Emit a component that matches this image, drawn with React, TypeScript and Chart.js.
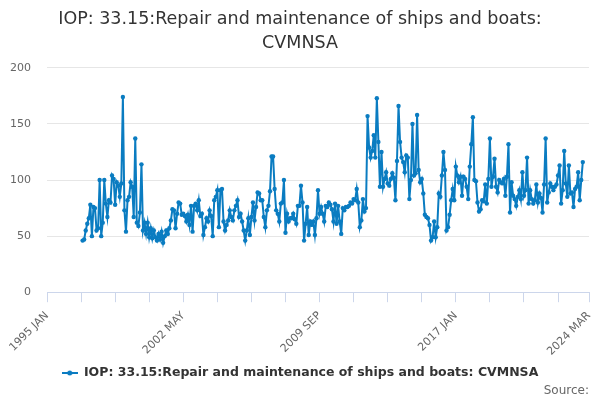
import React, { useEffect, useRef } from 'react';
import Chart from 'chart.js/auto';

const titleLines = ['IOP: 33.15:Repair and maintenance of ships and boats:', 'CVMNSA'];
const seriesName = 'IOP: 33.15:Repair and maintenance of ships and boats: CVMNSA';
const sourceText = 'Source:';

// x axis runs in months counted from 1995 JAN
const monthNames = ['JAN', 'FEB', 'MAR', 'APR', 'MAY', 'JUN', 'JUL', 'AUG', 'SEP', 'OCT', 'NOV', 'DEC'];
const axisStartYear = 1995;
const axisEndMonth = 350; // 2024 MAR
const tickStep = 22;
const labelStep = 88;
const seriesStartMonth = 23; // 1996 DEC

const yTicks = [0, 50, 100, 150, 200];

// monthly values, 1996 DEC .. 2023 NOV
const values = [
  46, 47, 55, 61, 66, 78, 50, 76, 75, 55, 57, 100,
  50, 62, 100, 79, 67, 82, 80, 104, 101, 78, 98, 95,
  85, 97, 174, 73, 54, 82, 85, 98, 94, 67, 137, 62,
  59, 71, 114, 55, 62, 52, 62, 49, 57, 48, 55, 49,
  46, 52, 47, 54, 44, 50, 55, 52, 57, 64, 74, 73,
  57, 70, 80, 79, 69, 70, 68, 63, 69, 60, 77, 54,
  77, 79, 73, 82, 68, 70, 51, 58, 66, 63, 73, 68,
  50, 82, 85, 91, 58, 91, 92, 63, 55, 60, 64, 73,
  67, 64, 73, 77, 82, 67, 70, 63, 55, 46, 55, 66,
  51, 67, 80, 64, 76, 89, 88, 82, 82, 67, 58, 73,
  77, 90, 121, 121, 92, 73, 70, 63, 79, 80, 100, 53,
  70, 63, 66, 66, 70, 65, 61, 77, 77, 95, 80, 46,
  61, 76, 51, 63, 60, 63, 51, 66, 91, 70, 76, 70,
  63, 77, 76, 80, 78, 74, 63, 79, 61, 77, 63, 52,
  75, 73, 76, 76, 77, 80, 79, 83, 82, 92, 80, 58,
  64, 83, 72, 75, 157, 129, 120, 126, 140, 120, 173, 134,
  94, 125, 94, 101, 107, 97, 95, 101, 106, 102, 82, 117,
  166, 134, 120, 116, 107, 122, 120, 83, 100, 150, 104, 106,
  158, 109, 98, 101, 88, 69, 67, 66, 60, 46, 49, 63,
  49, 58, 88, 85, 104, 125, 109, 55, 58, 69, 82, 92,
  82, 112, 104, 98, 103, 86, 103, 101, 94, 83, 112, 132,
  156, 100, 99, 80, 72, 74, 82, 81, 96, 79, 101, 137,
  94, 103, 119, 94, 89, 100, 98, 97, 101, 86, 103, 132,
  71, 98, 86, 83, 77, 85, 91, 83, 107, 86, 91, 120,
  79, 91, 83, 79, 82, 96, 80, 88, 84, 71, 96, 137,
  80, 89, 97, 94, 91, 94, 96, 104, 113, 79, 91, 126,
  97, 85, 113, 88, 89, 76, 92, 94, 107, 82, 100, 116,
];

const lineColor = '#0a7cc1';
const font = 'DejaVu Sans';

function monthLabel(m: number) {
  return axisStartYear + Math.floor(m / 12) + ' ' + monthNames[m % 12];
}

function legendSymbol() {
  const c = document.createElement('canvas');
  c.width = 16;
  c.height = 8;
  const ctx = c.getContext('2d');
  if (ctx) {
    ctx.strokeStyle = lineColor;
    ctx.lineWidth = 2;
    ctx.beginPath();
    ctx.moveTo(0, 4);
    ctx.lineTo(16, 4);
    ctx.stroke();
    ctx.fillStyle = lineColor;
    ctx.beginPath();
    ctx.arc(8, 4, 2.5, 0, Math.PI * 2);
    ctx.fill();
  }
  return c;
}

function App() {
  const chartRef = useRef<HTMLCanvasElement | null>(null);
  const chartInstance = useRef<Chart<'line', { x: number; y: number }[], unknown> | null>(null);

  useEffect(() => {
    document.body.style.margin = '0';
    if (chartInstance.current) {
      chartInstance.current.destroy();
    }
    const ctx = chartRef.current?.getContext('2d');
    if (ctx) {
      const symbol = legendSymbol();
      const tickValues: number[] = [];
      for (let m = 0; m < axisEndMonth; m += tickStep) tickValues.push(m);
      tickValues.push(axisEndMonth);

      chartInstance.current = new Chart(ctx, {
        type: 'line',
        data: {
          datasets: [
            {
              label: seriesName,
              data: values.map((v, i) => ({ x: seriesStartMonth + i, y: v })),
              borderColor: lineColor,
              backgroundColor: lineColor,
              borderWidth: 2,
              pointRadius: 2.2,
              pointBorderWidth: 0,
              pointBackgroundColor: lineColor,
              tension: 0,
            },
          ],
        },
        options: {
          animation: false,
          responsive: true,
          maintainAspectRatio: false,
          layout: { padding: 0 },
          plugins: {
            title: {
              display: true,
              text: titleLines,
              color: '#333333',
              font: { family: font, size: 17.5, weight: 'normal', lineHeight: 1.34 },
              padding: { top: 8, bottom: 13 },
            },
            subtitle: {
              display: true,
              fullSize: false,
              position: 'bottom',
              align: 'end',
              text: sourceText,
              color: '#666666',
              font: { family: font, size: 12, weight: 'normal', lineHeight: 0.9 },
              padding: { top: -4, bottom: 4 },
            },
            legend: {
              position: 'bottom',
              labels: {
                color: '#333333',
                font: { family: font, size: 12.5, weight: 'bold' },
                usePointStyle: true,
                pointStyleWidth: 16,
                padding: 10,
                generateLabels: (chart) =>
                  Chart.defaults.plugins.legend.labels.generateLabels(chart).map((l) => ({
                    ...l,
                    pointStyle: symbol,
                  })),
              },
            },
            tooltip: { enabled: false },
          },
          scales: {
            x: {
              type: 'linear',
              min: 0,
              max: axisEndMonth,
              afterBuildTicks: (axis) => {
                axis.ticks = tickValues.map((v) => ({ value: v }));
              },
              afterFit: (axis) => {
                axis.height = 64.5;
                axis.paddingLeft = 0;
                axis.paddingRight = 0;
              },
              ticks: {
                autoSkip: false,
                maxRotation: 45,
                minRotation: 45,
                color: '#666666',
                font: { family: font, size: 11 },
                padding: 7,
                callback: (v) => {
                  const m = Number(v);
                  return m % labelStep === 0 || m === axisEndMonth ? monthLabel(m) : '';
                },
              },
              grid: {
                drawOnChartArea: false,
                drawTicks: true,
                tickLength: 10,
                color: '#ccd6eb',
              },
              border: { display: true, color: '#ccd6eb' },
            },
            y: {
              min: 0,
              max: 200,
              afterBuildTicks: (axis) => {
                axis.ticks = yTicks.map((v) => ({ value: v }));
              },
              afterFit: (axis) => {
                axis.width = 47;
              },
              ticks: {
                color: '#666666',
                font: { family: font, size: 11 },
                padding: 16,
              },
              grid: { color: '#e6e6e6', drawTicks: false },
              border: { display: false },
            },
            // empty right-hand gutter so the plot stops short of the edge
            gutter: {
              type: 'linear',
              position: 'right',
              display: true,
              ticks: { display: false },
              grid: { display: false },
              border: { display: false },
              afterFit: (axis) => {
                axis.width = 11;
              },
            },
          },
        },
      });
    }
    return () => {
      if (chartInstance.current) {
        chartInstance.current.destroy();
        chartInstance.current = null;
      }
    };
  }, []);

  return (
    <div style={{ width: '600px', height: '400px' }}>
      <canvas ref={chartRef} />
    </div>
  );
}

export default App;
